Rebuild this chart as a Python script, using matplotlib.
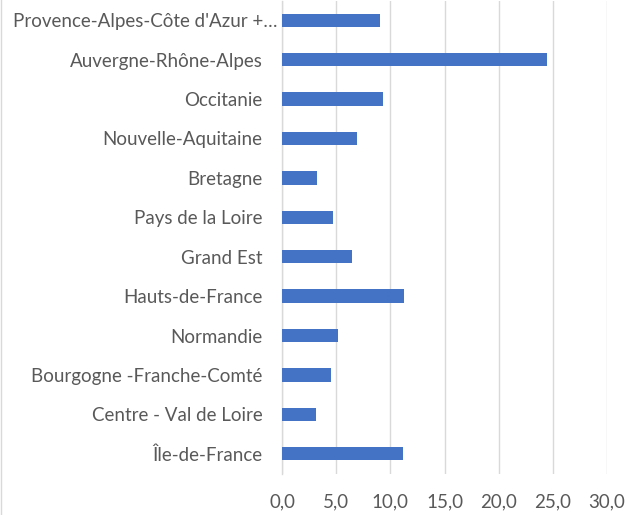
import matplotlib
matplotlib.use("Agg")
import matplotlib.pyplot as plt
from matplotlib.lines import Line2D
from matplotlib.transforms import ScaledTranslation

regions = [
    "Provence-Alpes-Côte d'Azur +…",
    "Auvergne-Rhône-Alpes",
    "Occitanie",
    "Nouvelle-Aquitaine",
    "Bretagne",
    "Pays de la Loire",
    "Grand Est",
    "Hauts-de-France",
    "Normandie",
    "Bourgogne -Franche-Comté",
    "Centre - Val de Loire",
    "Île-de-France",
]
values = [9.0, 24.5, 9.3, 6.9, 3.2, 4.7, 6.5, 11.3, 5.2, 4.5, 3.1, 11.2]
xticks = [0, 5, 10, 15, 20, 25, 30]
xtick_labels = ["0,0", "5,0", "10,0", "15,0", "20,0", "25,0", "30,0"]

plt.rcParams['font.family'] = ['Lato', 'DejaVu Sans']

W, H = 643, 515
fig = plt.figure(figsize=(W / 100, H / 100), dpi=100)
left, right = 282 / W, 607 / W
top, bottom = 0.5 / H, 473.5 / H
ax = fig.add_axes([left, 1 - bottom, right - left, bottom - top])

n = len(regions)
ypos = list(range(n))[::-1]
ax.barh(ypos, values, height=0.34, color="#4472C4", zorder=3)
ax.set_ylim(-0.5, n - 0.5)
ax.set_xlim(0, 30)
ax.set_xticks(xticks)
ax.set_xticklabels(xtick_labels, color="#595959", fontsize=13.5)
ax.set_yticks(ypos)
ax.set_yticklabels(regions, color="#595959", fontsize=13.5)
ax.tick_params(axis="both", length=0)
ax.tick_params(axis="y", pad=14)
ax.tick_params(axis="x", pad=14)
ax.grid(axis="x", color="#D9D9D9", linewidth=1.0, zorder=0)
for s in ["top", "right", "bottom"]:
    ax.spines[s].set_visible(False)
ax.spines["left"].set_color("#D9D9D9")
ax.spines["left"].set_linewidth(1.0)

# Excel lets the truncated first label run closer to the axis
first = ax.get_yticklabels()[0]
first.set_transform(first.get_transform() + ScaledTranslation(15 / 100, 0, fig.dpi_scale_trans))

fig.add_artist(Line2D([0.8 / W, 0.8 / W], [0, 1], color="#D9D9D9", linewidth=1.0, transform=fig.transFigure))

fig.savefig("out.png", dpi=100)
